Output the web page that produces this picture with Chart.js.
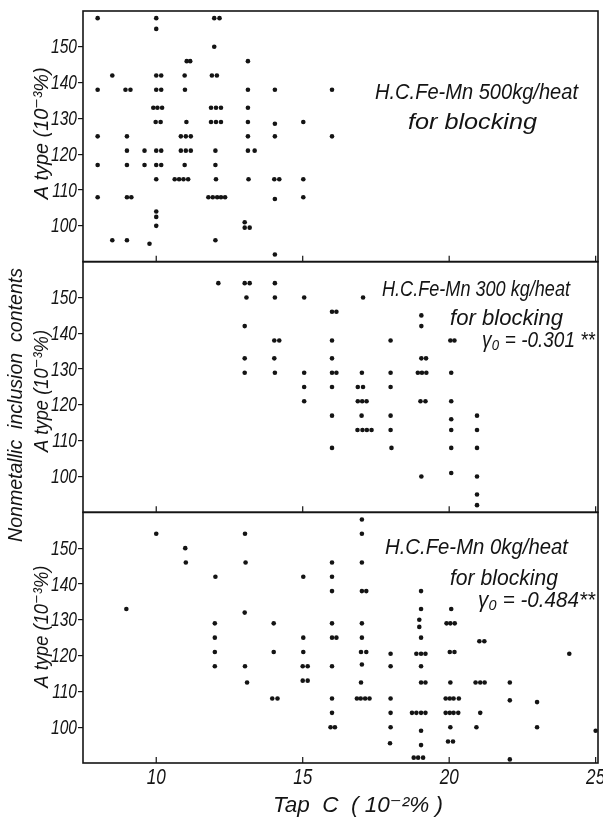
<!DOCTYPE html>
<html>
<head>
<meta charset="utf-8">
<title>Tap C vs A type inclusions</title>
<script src="https://cdn.jsdelivr.net/npm/chart.js@4.4.0/dist/chart.umd.min.js"></script>
<style>
  html, body { margin: 0; padding: 0; background: #fff; }
  #wrap { position: relative; width: 603px; height: 823px; }
</style>
</head>
<body>
<div id="wrap"><canvas id="chart" width="603" height="823"></canvas></div>
<script>
// tick labels
const xTicks = [10, 15, 20, 25];
const yTicks = [100, 110, 120, 130, 140, 150];

// H.C.Fe-Mn 500kg/heat (top panel)
const x500 = [
  8, 8, 8, 8, 8,
  8.5, 8.5,
  8.95, 9.12, 9, 9, 9, 9, 9.15, 9,
  9.6, 9.6, 9.77,
  10, 10, 10, 10.17, 10, 10.17, 9.9, 10.04, 10.2, 9.98, 10.15, 10, 10.17, 10, 10.17, 10, 10, 10, 10,
  11.04, 11.16, 10.97, 10.98, 11.03, 10.84, 11.01, 11.18, 10.84, 11.01, 11.18, 10.97, 10.63, 10.78, 10.93, 11.09,
  11.98, 12.16, 11.98, 11.9, 12.07, 11.87, 12.04, 12.21, 11.87, 12.04, 12.21, 12.02, 12.02, 12.04, 11.78, 11.93, 12.08, 12.21, 12.35, 12.02,
  13.13, 13.13, 13.13, 13.13, 13.13, 13.13, 13.36, 13.15, 13.02, 13.02, 13.19,
  14.05, 14.05, 14.05, 14.03, 14.2, 14.05, 14.05,
  15.02, 15.02, 15.02,
  16, 16
];
const y500 = [
  158, 138, 125, 117, 108,
  142, 96,
  138, 138, 125, 121, 117, 108, 108, 96,
  121, 117, 95,
  158, 155, 142, 142, 138, 138, 133, 133, 133, 129, 129, 121, 121, 117, 117, 113, 104, 102.5, 100,
  146, 146, 142, 138, 129, 125, 125, 125, 121, 121, 121, 117, 113, 113, 113, 113,
  158, 158, 150, 142, 142, 133, 133, 133, 129, 129, 129, 121, 117, 113, 108, 108, 108, 108, 108, 96,
  146, 138, 133, 129, 125, 121, 121, 113, 101, 99.5, 99.5,
  138, 128.5, 125, 113, 113, 107.5, 92,
  129, 113, 108,
  138, 125
];

// H.C.Fe-Mn 300kg/heat (middle panel)
const x300 = [
  12.12,
  13.02, 13.19, 13.08, 13.02, 13.02, 13.02,
  14.05, 14.05, 14.03, 14.2, 14.03, 14.05,
  15.05, 15.05, 15.05, 15.05,
  16, 16.15, 16, 16, 16, 16.15, 16, 16, 16,
  17.06, 17.02, 16.88, 17.06, 16.88, 17.03, 17.18, 17.01, 16.87, 17.04, 17.19, 17.35,
  18, 18, 18, 18, 18, 18.03,
  19.05, 19.05, 19.05, 19.21, 18.93, 19.07, 19.22, 19.02, 19.19, 19.05,
  20.04, 20.18, 20.07, 20.07, 20.07, 20.07, 20.07, 20.07,
  20.95, 20.95, 20.95, 20.95, 20.95, 20.95
];
const y300 = [
  154,
  154, 154, 150, 142, 133, 129,
  154, 150, 138, 138, 133, 129,
  150, 129, 125, 121,
  146, 146, 138, 133, 129, 129, 125, 117, 108,
  150, 129, 125, 125, 121, 121, 121, 117, 113, 113, 113, 113,
  138, 129, 125, 117, 113, 108,
  145, 142, 133, 133, 129, 129, 129, 121, 121, 100,
  138, 138, 129, 121, 116, 113, 108, 101,
  117, 113, 108, 100, 95, 92
];

// H.C.Fe-Mn 0kg/heat (bottom panel)
const x0 = [
  8.98,
  10,
  10.99, 11.01,
  12.02, 12, 12, 12, 12,
  13.03, 13.05, 13.02, 13.03, 13.1,
  14.01, 14.01, 13.96, 14.14,
  15.02, 15.02, 15.02, 15, 15.17, 15, 15.17,
  16, 16, 16, 16, 16, 16.15, 16, 16, 16, 15.95, 16.1,
  17.02, 17.02, 17.02, 17.02, 17.17, 17.02, 17.02, 16.99, 17.17, 17.02, 16.99, 16.85, 16.98, 17.13, 17.28,
  18, 18, 18, 18, 18, 17.98,
  19.04, 19.04, 18.98, 18.98, 19.04, 18.88, 19.04, 19.19, 19.04, 19.04, 19.19, 18.73, 18.88, 19.04, 19.19, 19.04, 19.04, 18.79, 18.94, 19.11,
  20.07, 19.91, 20.04, 20.19, 20.02, 20.18, 20.04, 19.88, 20.02, 20.15, 20.33, 19.88, 20.02, 20.15, 20.31, 20.04, 19.96, 20.13,
  21.03, 21.2, 20.9, 21.06, 21.21, 21.06, 20.93,
  22.07, 22.07, 22.07,
  23, 23,
  24.1,
  25
];
const y0 = [
  133,
  154,
  150, 146,
  142, 129, 125, 121, 117,
  154, 146, 132, 117, 112.5,
  129, 121, 108, 108,
  142, 125, 121, 117, 117, 113, 113,
  146, 142, 138, 129, 125, 125, 117, 108, 104, 100, 100,
  158, 154, 146, 138, 138, 129, 125, 121, 121, 117.5, 112.5, 108, 108, 108, 108,
  120.5, 117, 108, 104, 100, 95.5,
  138, 133, 130, 128, 125, 120.5, 120.5, 120.5, 117, 112.5, 112.5, 104, 104, 104, 104, 99, 95, 91.5, 91.5, 91.5,
  133, 129, 129, 129, 121, 121, 112.5, 108, 108, 108, 108, 104, 104, 104, 104, 100, 96, 96,
  124, 124, 112.5, 112.5, 112.5, 104, 100,
  112.5, 107.5, 91,
  107, 100,
  120.5,
  99
];

const INK = '#141414';
const FONT = "'Liberation Sans', 'DejaVu Sans', sans-serif";

const pts = (xs, ys) => xs.map((x, i) => ({x: x, y: ys[i]}));

// panel texts: [text, dx from plot left, dy from panel top, width to squeeze into]
const notes = {
  y1: [['H.C.Fe-Mn 500kg/heat', 292, 82, 203], ['for blocking', 325, 112, 129]],
  y2: [['H.C.Fe-Mn 300 kg/heat', 299, 28, 188], ['for blocking', 367, 57, 113], ['γ₀ = -0.301 **', 399, 79, 113]],
  y3: [['H.C.Fe-Mn 0kg/heat', 302, 36, 183], ['for blocking', 367, 67, 108], ['γ₀ = -0.484**', 395, 89, 117]]
};
// shift of each panel's y title from the panel middle, and its length
const titleShift = {y1: [-3, 132], y2: [4, 122], y3: [-11, 122]};

// the lettering in the scan is narrow, so squeeze text sideways
function squeeze(ctx, text, x, y, width, rotate) {
  const w = ctx.measureText(text).width;
  ctx.save();
  ctx.translate(x, y);
  if (rotate) ctx.rotate(-Math.PI / 2);
  ctx.scale(width ? width / w : 0.78, 1);
  ctx.fillText(text, 0, 0);
  ctx.restore();
}

const framePlugin = {
  id: 'frame',
  afterDraw(chart) {
    const ctx = chart.ctx;
    const area = chart.chartArea;
    const xs = chart.scales.x;
    ctx.save();
    ctx.strokeStyle = INK;
    ctx.fillStyle = INK;
    ctx.textBaseline = 'middle';
    ['y1', 'y2', 'y3'].forEach(id => {
      const s = chart.scales[id];
      ctx.lineWidth = 1.6;
      ctx.strokeRect(area.left, s.top, area.right - area.left, s.bottom - s.top);
      // x ticks point up into each panel
      ctx.lineWidth = 1.2;
      xTicks.forEach(v => {
        const px = xs.getPixelForValue(v);
        ctx.beginPath();
        ctx.moveTo(px, s.bottom);
        ctx.lineTo(px, s.bottom - 6);
        ctx.stroke();
      });
      // y tick labels
      ctx.font = 'italic 20px ' + FONT;
      ctx.textAlign = 'right';
      yTicks.forEach(v => squeeze(ctx, String(v), s.right - 6, s.getPixelForValue(v) + 1, 0));
      // notes
      ctx.font = 'italic 22px ' + FONT;
      ctx.textAlign = 'left';
      notes[id].forEach(n => squeeze(ctx, n[0], area.left + n[1], s.top + n[2], n[3]));
      // panel y title
      ctx.textAlign = 'center';
      ctx.font = 'italic 21px ' + FONT;
      squeeze(ctx, 'A type (10⁻³%)', 42, (s.top + s.bottom) / 2 + titleShift[id][0], titleShift[id][1], true);
    });
    // x tick labels
    ctx.font = 'italic 22px ' + FONT;
    ctx.textAlign = 'center';
    xTicks.forEach(v => squeeze(ctx, String(v), xs.getPixelForValue(v), 778, 0));
    // shared titles
    ctx.font = 'italic 21px ' + FONT;
    squeeze(ctx, 'Nonmetallic  inclusion  contents', 16, 405, 274, true);
    ctx.font = 'italic 22px ' + FONT;
    squeeze(ctx, 'Tap  C  ( 10⁻²% )', 358, 806, 170);
    ctx.restore();
  }
};

function panelScale(weight) {
  return {
    type: 'linear',
    position: 'left',
    stack: 'panels',
    stackWeight: 1,
    weight: weight,
    min: 90,
    max: 160,
    afterBuildTicks: s => { s.ticks = yTicks.map(v => ({value: v})); },
    afterFit: s => { s.width = 83; s.paddingTop = 0; s.paddingBottom = 0; },
    border: {display: false},
    grid: {drawOnChartArea: false, drawTicks: true, tickLength: 5, color: INK, lineWidth: 1.2},
    ticks: {display: false}
  };
}

const dotStyle = {
  showLine: false,
  pointRadius: 2.3,
  pointBorderWidth: 0,
  pointBackgroundColor: INK,
  pointHoverRadius: 2.3
};

new Chart(document.getElementById('chart'), {
  type: 'scatter',
  data: {
    datasets: [
      Object.assign({label: '500kg/heat', data: pts(x500, y500), yAxisID: 'y1'}, dotStyle),
      Object.assign({label: '300kg/heat', data: pts(x300, y300), yAxisID: 'y2'}, dotStyle),
      Object.assign({label: '0kg/heat', data: pts(x0, y0), yAxisID: 'y3'}, dotStyle)
    ]
  },
  options: {
    responsive: false,
    animation: false,
    devicePixelRatio: 1,
    layout: {padding: {top: 11, right: 5, left: 0, bottom: 0}, autoPadding: false},
    plugins: {legend: {display: false}, tooltip: {enabled: false}},
    scales: {
      x: {
        type: 'linear',
        min: 7.5,
        max: 25.08,
        afterBuildTicks: s => { s.ticks = xTicks.map(v => ({value: v})); },
        afterFit: s => { s.height = 60; s.paddingLeft = 0; s.paddingRight = 0; },
        border: {display: false},
        grid: {display: false, drawTicks: false},
        ticks: {display: false}
      },
      y1: panelScale(3),
      y2: panelScale(2),
      y3: panelScale(1)
    }
  },
  plugins: [framePlugin]
});
</script>
</body>
</html>
